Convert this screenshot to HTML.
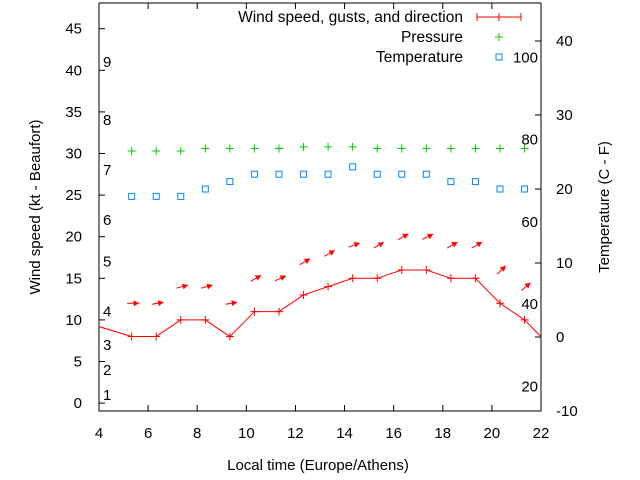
<!DOCTYPE html>
<html><head><meta charset="utf-8">
<style>
html,body{margin:0;padding:0;background:#fff;}
svg{display:block;font-family:"Liberation Sans",sans-serif;}
</style></head>
<body>
<svg id="chart" width="640" height="480" viewBox="0 0 640 480" xmlns="http://www.w3.org/2000/svg">
<rect x="0" y="0" width="640" height="480" fill="#fff"/>
<g id="grid"></g>
<g id="marks"></g>
<text x="318" y="470" font-size="15" text-anchor="middle">Local time (Europe/Athens)</text>
<text transform="translate(40,207) rotate(-90)" font-size="15" text-anchor="middle">Wind speed (kt - Beaufort)</text>
<text transform="translate(609,207) rotate(-90)" font-size="15" text-anchor="middle">Temperature (C - F)</text>
<g>
<text x="463" y="22" font-size="15.5" text-anchor="end">Wind speed, gusts, and direction</text>
<text x="463" y="42" font-size="15.5" text-anchor="end">Pressure</text>
<text x="463" y="62" font-size="15.5" text-anchor="end">Temperature</text>
<g stroke="#f00" stroke-width="1">
<line x1="477" y1="17" x2="521" y2="17"/><line x1="477" y1="13" x2="477" y2="21"/><line x1="521" y1="13" x2="521" y2="21"/><line x1="499" y1="13" x2="499" y2="21"/></g>
<g stroke="#0c0" stroke-width="1"><line x1="495" y1="37" x2="503" y2="37"/><line x1="499" y1="33" x2="499" y2="41"/></g>
<rect x="496" y="54" width="6" height="6" fill="none" stroke="#08f" stroke-width="1"/>
</g>
</svg>
<script>
const hours = [3.33,5.33,6.33,7.33,8.33,9.33,10.33,11.33,12.33,13.33,14.33,15.33,16.33,17.33,18.33,19.33,20.33,21.33,22.33];
const windKt = [9.8,8,8,10,10,8,11,11,13,14,15,15,16,16,15,15,12,10,7];
const gustKt = [null,12,12,14,14,12,15,15,17,18,19,19,20,20,19,19,16,14,null];
const windDirDeg = [null,0,10,15,15,10,30,25,30,30,20,30,30,25,30,30,45,40,null];
const pressure = [null,30.3,30.3,30.3,30.6,30.6,30.6,30.6,30.8,30.8,30.8,30.6,30.6,30.6,30.6,30.6,30.6,30.6,null];
const tempC = [null,19,19,19,20,21,22,22,22,22,23,22,22,22,21,21,20,20,null];
const xTicks = [4,6,8,10,12,14,16,18,20,22];
const yTicks = [0,5,10,15,20,25,30,35,40,45];
const y2Ticks = [-10,0,10,20,30,40];
const beaufortKt = [1,4,7,11,17,22,28,34,41];
const beaufortLabels = ["1","2","3","4","5","6","7","8","9"];
const fahrenheit = [20,40,60,80,100];

const L=99,R=541,T=3,B=411;
const xs = h => L + (h-4)/(22-4)*(R-L);
const ys = v => 403.1 - v*8.32;
const y2s = c => 337 - c*7.4;
const NS="http://www.w3.org/2000/svg";
const svg=document.getElementById('chart');
const grid=document.getElementById('grid');
const marks=document.getElementById('marks');
function mk(tag,attrs,parent){const e=document.createElementNS(NS,tag);for(const k in attrs)e.setAttribute(k,attrs[k]);(parent||marks).appendChild(e);return e;}

const frame=mk('rect',{x:L,y:T,width:R-L,height:B-T,fill:'none',stroke:'#000','stroke-width':1},grid);


xTicks.forEach(t=>{
  const x=xs(t);
  const tk=mk('path',{d:`M${x} ${B}v-6M${x} ${T}v6`,stroke:'#000'},grid);
  
  
  const tx=mk('text',{x:x,y:438,'font-size':15,'text-anchor':'middle'},grid);tx.textContent=t;
  
  
});
yTicks.forEach(t=>{
  const y=ys(t);
  const tk=mk('path',{d:`M${L} ${y}h6`,stroke:'#000'},grid);
  
  
  const tx=mk('text',{x:82,y:y+5,'font-size':15,'text-anchor':'end'},grid);tx.textContent=t;
  
  
});
y2Ticks.forEach(t=>{
  const y=y2s(t);
  const tk=mk('path',{d:`M${R} ${y}h-6`,stroke:'#000'},grid);
  
  
  const tx=mk('text',{x:556,y:y+5,'font-size':15,'text-anchor':'start'},grid);tx.textContent=t;
  
  
});
beaufortKt.forEach((k,i)=>{
  const tx=mk('text',{x:103,y:ys(k)+5,'font-size':15},grid);tx.textContent=beaufortLabels[i];
  
  
});
fahrenheit.forEach(f=>{
  const c=(f-32)*5/9;
  const tx=mk('text',{x:538,y:y2s(c)+5,'font-size':15,'text-anchor':'end'},grid);tx.textContent=f;
  
  
});

const defs=mk('defs',{},svg);
const cp=mk('clipPath',{id:'pc'},defs);
mk('rect',{x:L,y:T,width:R-L,height:B-T},cp);
marks.setAttribute('clip-path','url(#pc)');

const pts=hours.map((h,i)=>xs(h)+','+ys(windKt[i])).join(' ');
const wl=mk('polyline',{points:pts,fill:'none',stroke:'#f00','stroke-width':1});


hours.forEach((h,i)=>{
  const x=xs(h),y=ys(windKt[i]);
  const p=mk('path',{d:`M${x-4} ${y}h8M${x} ${y-4}v8`,stroke:'#f00','stroke-width':1});
  
  
  if(gustKt[i]!==null){
    const gx=x+1.5,gy=ys(gustKt[i]);
    const a=windDirDeg[i]*Math.PI/180,len=12;
    const dx=Math.cos(a),dy=-Math.sin(a);
    const x0=gx-dx*len/2,y0=gy-dy*len/2,x1=gx+dx*len/2,y1=gy+dy*len/2;
    const g=mk('g',{});
    
    
    mk('line',{x1:x0,y1:y0,x2:x1,y2:y1,stroke:'#f00','stroke-width':1},g);
    const px=-dy,py=dx,hl=5.5,hw=3;
    const bx=x1-dx*hl,by=y1-dy*hl;
    mk('polygon',{points:`${x1},${y1} ${bx+px*hw},${by+py*hw} ${bx-px*hw},${by-py*hw}`,fill:'#f00'},g);
  }
  if(pressure[i]!==null){
    const py2=ys(pressure[i]);
    const pp=mk('path',{d:`M${x-4} ${py2}h8M${x} ${py2-4}v8`,stroke:'#0c0','stroke-width':1});
    
    
  }
  if(tempC[i]!==null){
    const ty=y2s(tempC[i]);
    const r=mk('rect',{x:x-3,y:ty-3,width:6,height:6,fill:'none',stroke:'#08f','stroke-width':1});
    
    
  }
});
</script>
</body></html>
